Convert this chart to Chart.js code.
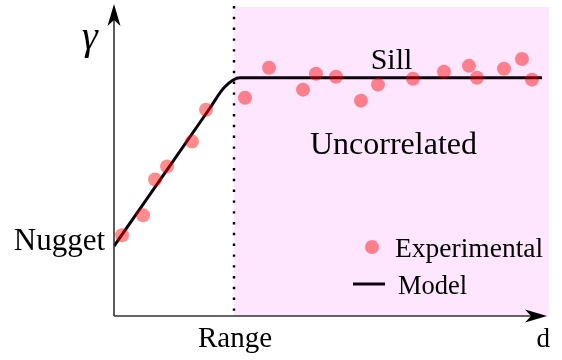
<!DOCTYPE html>
<html>
<head>
<meta charset="utf-8">
<script src="https://cdn.jsdelivr.net/npm/chart.js@4.4.1/dist/chart.umd.min.js"></script>
<style>
  html, body { margin: 0; padding: 0; background: #ffffff; }
  #wrap { width: 562px; height: 360px; }
</style>
</head>
<body>
<div id="wrap"><canvas id="c" width="562" height="360"></canvas></div>
<script>
// Lag distance d is expressed in units of the range, semivariance in units of the sill.
const expLag   = [0.067, 0.242, 0.342, 0.442, 0.650, 0.767,
                  1.092, 1.292, 1.575, 1.683, 1.850, 2.058, 2.200,
                  2.492, 2.750, 2.958, 3.025, 3.250, 3.400, 3.483];
const expGamma = [0.339, 0.423, 0.573, 0.628, 0.732, 0.866,
                  0.916, 1.042, 0.950, 1.017, 1.004, 0.904, 0.971,
                  0.996, 1.025, 1.050, 1.000, 1.038, 1.079, 0.992];

// Fitted model: linear rise from the nugget, rounded into the sill at the range.
const modelLag   = [0, 0.80, 0.92, 1.05, 1.20, 3.567];
const modelGamma = [0.293, 0.873, 0.960, 1.000, 1.000, 1.000];

const nugget = 0.293;
const sill = 1.0;
const range = 1.0;
const lagMax = 3.625;
const gammaMax = 1.297;

const seriesNames = ['Experimental', 'Model'];
const axisTitles = { x: 'd', y: 'γ' };
const annotations = { nugget: 'Nugget', range: 'Range', sill: 'Sill', zone: 'Uncorrelated' };

const SERIF = "'Liberation Serif', 'Times New Roman', Times, serif";
const POINT_COLOR = 'rgba(255, 0, 0, 0.45)';
const LINE_COLOR = '#0c020c';
const ZONE_COLOR = 'rgb(255, 230, 255)';
const AXIS_COLOR = '#333333';

const toPoints = (xs, ys) => xs.map((x, i) => ({ x: x, y: ys[i] }));

// Shaded uncorrelated zone beyond the range plus the dotted range marker.
const zonePlugin = {
  id: 'zone',
  beforeDatasetsDraw(chart) {
    const { ctx, chartArea, scales } = chart;
    const xr = scales.x.getPixelForValue(range);
    ctx.save();
    ctx.fillStyle = ZONE_COLOR;
    ctx.fillRect(xr, chartArea.top, chartArea.right - xr, chartArea.bottom - chartArea.top);
    ctx.strokeStyle = '#000000';
    ctx.lineWidth = 2.4;
    ctx.setLineDash([2.4, 8.4]);
    ctx.beginPath();
    ctx.moveTo(xr, chartArea.top - 1);
    ctx.lineTo(xr, chartArea.bottom);
    ctx.stroke();
    ctx.restore();
  }
};

// Arrowed axes, annotation text and the legend.
const decorPlugin = {
  id: 'decor',
  afterDatasetsDraw(chart) {
    const { ctx, chartArea, scales } = chart;
    const x0 = chartArea.left, y0 = chartArea.bottom;
    const xEnd = chartArea.right - 2;
    const yEnd = chartArea.top - 3;
    ctx.save();

    // axes
    ctx.strokeStyle = AXIS_COLOR;
    ctx.fillStyle = '#000000';
    ctx.lineWidth = 1.6;
    ctx.beginPath();
    ctx.moveTo(x0, y0);
    ctx.lineTo(xEnd - 6, y0);
    ctx.moveTo(x0, y0);
    ctx.lineTo(x0, yEnd + 6);
    ctx.stroke();
    // arrowheads
    ctx.beginPath();
    ctx.moveTo(x0, yEnd);
    ctx.lineTo(x0 - 6.5, yEnd + 22);
    ctx.lineTo(x0, yEnd + 16);
    ctx.lineTo(x0 + 6.5, yEnd + 22);
    ctx.closePath();
    ctx.fill();
    ctx.beginPath();
    ctx.moveTo(xEnd, y0);
    ctx.lineTo(xEnd - 22, y0 - 6.5);
    ctx.lineTo(xEnd - 16, y0);
    ctx.lineTo(xEnd - 22, y0 + 6.5);
    ctx.closePath();
    ctx.fill();

    ctx.fillStyle = '#000000';
    ctx.textBaseline = 'alphabetic';

    // axis titles
    ctx.font = 'italic 40px ' + SERIF;
    ctx.textAlign = 'center';
    ctx.fillText(axisTitles.y, x0 - 24, 49);
    ctx.font = '27px ' + SERIF;
    ctx.textAlign = 'right';
    ctx.fillText(axisTitles.x, chartArea.right + 1, 347);

    // annotations
    const ySill = scales.y.getPixelForValue(sill);
    const yNug = scales.y.getPixelForValue(nugget);
    const xr = scales.x.getPixelForValue(range);
    ctx.font = '31px ' + SERIF;
    ctx.textAlign = 'right';
    ctx.fillText(annotations.nugget, x0 - 9, yNug + 4);
    ctx.textAlign = 'center';
    ctx.font = '29px ' + SERIF;
    ctx.fillText(annotations.range, xr + 1, 347);
    ctx.font = '30px ' + SERIF;
    ctx.fillText(annotations.sill, scales.x.getPixelForValue(2.3125), ySill - 9);
    ctx.font = '32px ' + SERIF;
    ctx.fillText(annotations.zone, scales.x.getPixelForValue(2.329), ySill + 76);

    // legend
    ctx.textAlign = 'left';
    ctx.fillStyle = POINT_COLOR;
    ctx.beginPath();
    ctx.arc(372, 247, 7, 0, Math.PI * 2);
    ctx.fill();
    ctx.fillStyle = '#000000';
    ctx.font = '27.5px ' + SERIF;
    ctx.fillText(seriesNames[0], 395, 257);
    ctx.strokeStyle = LINE_COLOR;
    ctx.lineWidth = 3;
    ctx.beginPath();
    ctx.moveTo(353, 284);
    ctx.lineTo(385, 284);
    ctx.stroke();
    ctx.font = '26.5px ' + SERIF;
    ctx.fillText(seriesNames[1], 398, 294);

    ctx.restore();
  }
};

new Chart(document.getElementById('c'), {
  type: 'scatter',
  data: {
    datasets: [
      {
        label: seriesNames[0],
        data: toPoints(expLag, expGamma),
        backgroundColor: POINT_COLOR,
        borderWidth: 0,
        pointRadius: 7,
        pointHoverRadius: 7,
        order: 1
      },
      {
        type: 'line',
        label: seriesNames[1],
        data: toPoints(modelLag, modelGamma),
        borderColor: LINE_COLOR,
        borderWidth: 3,
        pointRadius: 0,
        cubicInterpolationMode: 'monotone',
        fill: false,
        order: 2
      }
    ]
  },
  options: {
    responsive: false,
    animation: false,
    devicePixelRatio: 1,
    layout: { padding: { left: 114, right: 13, top: 6, bottom: 44 } },
    plugins: { legend: { display: false }, tooltip: { enabled: false } },
    scales: {
      x: { type: 'linear', min: 0, max: lagMax, display: false },
      y: { type: 'linear', min: 0, max: gammaMax, display: false }
    }
  },
  plugins: [zonePlugin, decorPlugin]
});
</script>
</body>
</html>
